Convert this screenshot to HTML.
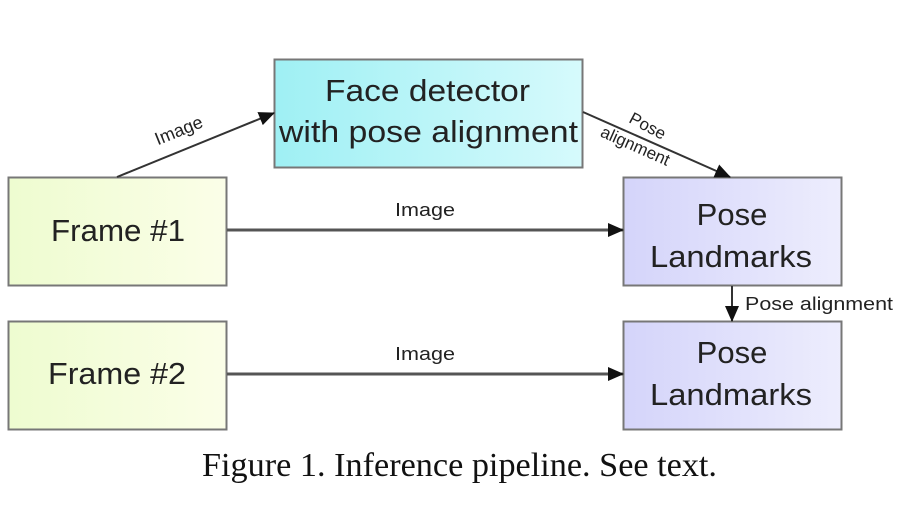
<!DOCTYPE html>
<html><head><meta charset="utf-8"><style>
html,body{margin:0;padding:0;background:#fff;}
body{width:908px;height:524px;overflow:hidden;position:relative;}
</style></head><body>
<svg width="908" height="524" xmlns="http://www.w3.org/2000/svg" style="position:absolute;left:0;top:0">
<defs>
<linearGradient id="gy" x1="0" x2="1"><stop offset="0" stop-color="#eefcd0"/><stop offset="1" stop-color="#fbfee8"/></linearGradient>
<linearGradient id="gc" x1="0" x2="1"><stop offset="0" stop-color="#9ff0f4"/><stop offset="1" stop-color="#d6fafc"/></linearGradient>
<linearGradient id="gp" x1="0" x2="1"><stop offset="0" stop-color="#d4d4fa"/><stop offset="1" stop-color="#ededfd"/></linearGradient>
<marker id="ahb" markerWidth="16" markerHeight="14" refX="15" refY="7" orient="auto" markerUnits="userSpaceOnUse"><path d="M0,0 L16,7 L0,14 z" fill="#111"/></marker>
</defs>
<g font-family="'Liberation Sans', sans-serif" fill="#222">
<rect x="274.5" y="59.5" width="308" height="108" fill="url(#gc)" stroke="#777" stroke-width="2"/>
<text x="325" y="101" font-size="31" textLength="205" lengthAdjust="spacingAndGlyphs">Face detector</text>
<text x="279" y="142" font-size="31" textLength="299" lengthAdjust="spacingAndGlyphs">with pose alignment</text>
<rect x="8.5" y="177.5" width="218" height="108" fill="url(#gy)" stroke="#777" stroke-width="2"/>
<text x="51" y="241" font-size="31" textLength="134" lengthAdjust="spacingAndGlyphs">Frame #1</text>
<rect x="8.5" y="321.5" width="218" height="108" fill="url(#gy)" stroke="#777" stroke-width="2"/>
<text x="48" y="384" font-size="31" textLength="138" lengthAdjust="spacingAndGlyphs">Frame #2</text>
<rect x="623.5" y="177.5" width="218" height="108" fill="url(#gp)" stroke="#777" stroke-width="2"/>
<text x="732" y="225" font-size="31" text-anchor="middle">Pose</text>
<text x="650" y="267" font-size="31" textLength="162" lengthAdjust="spacingAndGlyphs">Landmarks</text>
<rect x="623.5" y="321.5" width="218" height="108" fill="url(#gp)" stroke="#777" stroke-width="2"/>
<text x="732" y="363" font-size="31" text-anchor="middle">Pose</text>
<text x="650" y="405" font-size="31" textLength="162" lengthAdjust="spacingAndGlyphs">Landmarks</text>
</g>
<g stroke="#333" fill="none">
<line x1="117" y1="177" x2="274" y2="113" stroke-width="2" marker-end="url(#ahb)"/>
<line x1="583" y1="112" x2="730" y2="177" stroke-width="2" marker-end="url(#ahb)"/>
<line x1="227" y1="230" x2="623" y2="230" stroke-width="3" stroke="#555" marker-end="url(#ahb)"/>
<line x1="227" y1="374" x2="623" y2="374" stroke-width="3" stroke="#555" marker-end="url(#ahb)"/>
<line x1="732" y1="286" x2="732" y2="321" stroke-width="2" marker-end="url(#ahb)"/>
</g>
<g font-family="'Liberation Sans', sans-serif" font-size="18" fill="#222">
<text x="181" y="136" transform="rotate(-22 181 136)" text-anchor="middle">Image</text>
<text x="395" y="216" textLength="60" lengthAdjust="spacingAndGlyphs">Image</text>
<text x="395" y="360" textLength="60" lengthAdjust="spacingAndGlyphs">Image</text>
<text x="645" y="131" transform="rotate(28 645 131)" text-anchor="middle" font-size="17">Pose</text>
<text x="633" y="151" transform="rotate(24 633 151)" text-anchor="middle" font-size="17">alignment</text>
<text x="745" y="310" textLength="148" lengthAdjust="spacingAndGlyphs">Pose alignment</text>
</g>
<text x="202" y="476" font-family="'Liberation Serif', serif" font-size="34" fill="#111" textLength="515" lengthAdjust="spacingAndGlyphs">Figure 1. Inference pipeline. See text.</text>
</svg>
</body></html>
